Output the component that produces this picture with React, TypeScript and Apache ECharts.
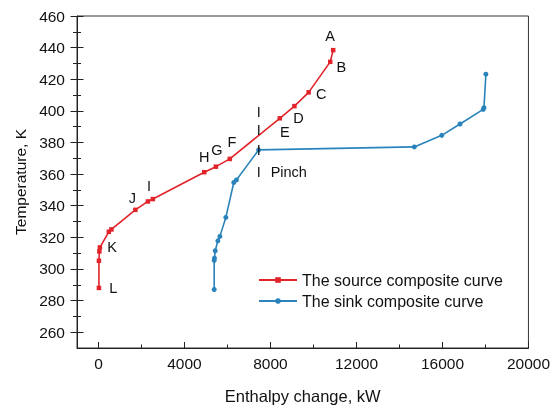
import React, { useEffect, useRef } from "react";
import * as echarts from "echarts";

// Source (hot) composite curve: enthalpy (kW), temperature (K), point letter
const sourceH = [20, 20, 40, 65, 480, 600, 1715, 2298, 2529, 4920, 5461, 6108, 8434, 9114, 9775, 10779, 10917];
const sourceT = [288, 305.2, 311.1, 313.6, 323.5, 325, 337.4, 342.7, 344.2, 361.2, 364.7, 369.6, 395.3, 403, 411.7, 431, 438.4];
const sourceLabels = ["L", "", "", "K", "", "", "J", "I", "", "H", "G", "F", "E", "D", "C", "B", "A"];

// Sink (cold) composite curve
const sinkH = [5382, 5382, 5395, 5429, 5553, 5646, 5923, 6293, 6414, 7450, 14691, 15967, 16817, 17895, 17930, 18020];
const sinkT = [287, 305.4, 306.9, 311.5, 317.8, 320.6, 332.6, 354.7, 356.3, 375.3, 377.2, 384.5, 391.7, 400.9, 402, 423.2];

// Pinch marks
const pinchH = 7450;
const pinchMarkT = [399, 387.8, 375.3, 361.2];
const pinchText = "Pinch";

// Axis ticks
const xMajor = [0, 4000, 8000, 12000, 16000, 20000];
const xMinor = [2000, 6000, 10000, 14000, 18000];
const yMajor = [260, 280, 300, 320, 340, 360, 380, 400, 420, 440, 460];
const yMinor = [270, 290, 310, 330, 350, 370, 390, 410, 430, 450];

const seriesNames = ["The source composite curve", "The sink composite curve"];

// label placement (style only)
const labelPlace: Record<string, { position: string; offset: number[] }> = {
  A: { position: "top", offset: [-3, 1] },
  B: { position: "right", offset: [-1, 5] },
  C: { position: "right", offset: [0, 2] },
  D: { position: "bottom", offset: [4, -3] },
  E: { position: "bottom", offset: [5, -1] },
  F: { position: "top", offset: [2, -2] },
  G: { position: "top", offset: [1, -2] },
  H: { position: "top", offset: [0, 0] },
  I: { position: "top", offset: [1, -1] },
  J: { position: "top", offset: [-3, 3] },
  K: { position: "right", offset: [0, 0] },
  L: { position: "right", offset: [3, 0] },
};

const RED = "#e2232a";
const BLUE = "#2a84bb";
const INK = "#111111";
const FONT = "'Liberation Sans', Arial, sans-serif";

export default function App() {
  const ref = useRef<HTMLDivElement>(null);
  useEffect(() => {
    if (!ref.current) return;
    const chart = echarts.init(ref.current, null, { renderer: "svg" });

    const sourceData = sourceH.map((h, i) => {
      const lab = sourceLabels[i];
      const item: any = { value: [h, sourceT[i]], name: lab };
      if (lab) {
        const p = labelPlace[lab];
        item.label = {
          show: true,
          formatter: lab,
          position: p.position,
          offset: p.offset,
          color: INK,
          fontSize: 14.5,
          fontFamily: FONT,
        };
      }
      return item;
    });
    const sinkData = sinkH.map((h, i) => [h, sinkT[i]]);
    const pinchData: any[] = pinchMarkT.map((t) => ({
      value: [pinchH, t],
      label: { show: true, formatter: "I", position: "inside", color: INK, fontSize: 14.5, fontFamily: FONT, textBorderWidth: 0, opacity: 1 },
    }));
    pinchData.push({
      value: [pinchH, pinchMarkT[pinchMarkT.length - 1]],
      label: { show: true, formatter: pinchText, position: "right", offset: [7, 0], color: INK, fontSize: 14.5, fontFamily: FONT, textBorderWidth: 0, opacity: 1 },
    });

    const yBase = { type: "value", min: 250, max: 460, position: "left", splitLine: { show: false } };

    const option: any = {
      animation: false,
      textStyle: { fontFamily: FONT },
      grid: { left: 77, right: 22, top: 16, bottom: 60, show: true, borderColor: "#333", borderWidth: 1 },
      legend: {
        data: seriesNames,
        orient: "vertical",
        left: 253,
        top: 267,
        itemWidth: 38,
        itemHeight: 7,
        itemGap: 5,
        textStyle: { fontSize: 16, color: INK, fontFamily: FONT },
      },
      xAxis: [
        {
          type: "value",
          min: -1000,
          max: 20000,
          position: "bottom",
          axisLine: { show: true, onZero: false, lineStyle: { color: "#222", width: 1 } },
          axisTick: { show: true, inside: true, length: 6, customValues: xMajor, lineStyle: { color: "#222" } },
          axisLabel: { customValues: xMajor, margin: 7, fontSize: 15.5, color: INK, fontFamily: FONT, formatter: (v: number) => String(v) },
          splitLine: { show: false },
          name: "Enthalpy change, kW",
          nameLocation: "middle",
          nameGap: 39,
          nameTextStyle: { fontSize: 16.5, color: INK, fontFamily: FONT },
        },
        {
          type: "value",
          min: -1000,
          max: 20000,
          position: "bottom",
          axisLine: { show: false, onZero: false },
          axisTick: { show: true, inside: true, length: 3.5, customValues: xMinor, lineStyle: { color: "#222" } },
          axisLabel: { show: false },
          splitLine: { show: false },
        },
      ],
      yAxis: [
        {
          ...yBase,
          axisLine: { show: true, onZero: false, lineStyle: { color: "#222", width: 1 } },
          axisTick: { show: false },
          axisLabel: { customValues: yMajor, margin: 12, fontSize: 15.5, color: INK, fontFamily: FONT, formatter: (v: number) => String(v) },
          name: "Temperature, K",
          nameLocation: "middle",
          nameGap: 49,
          nameTextStyle: { fontSize: 15.5, color: INK, fontFamily: FONT },
        },
        {
          ...yBase,
          offset: -6.5,
          axisLine: { show: false, onZero: false },
          axisTick: { show: true, inside: false, length: 13, customValues: yMajor, lineStyle: { color: "#222" } },
          axisLabel: { show: false },
        },
        {
          ...yBase,
          offset: -4,
          axisLine: { show: false, onZero: false },
          axisTick: { show: true, inside: false, length: 8, customValues: yMinor, lineStyle: { color: "#222" } },
          axisLabel: { show: false },
        },
      ],
      series: [
        {
          name: seriesNames[0],
          type: "line",
          xAxisIndex: 0,
          yAxisIndex: 0,
          data: sourceData,
          symbol: "rect",
          symbolSize: 4.5,
          lineStyle: { color: RED, width: 1.6 },
          itemStyle: { color: RED },
          z: 3,
        },
        {
          name: seriesNames[1],
          type: "line",
          xAxisIndex: 0,
          yAxisIndex: 0,
          data: sinkData,
          symbol: "circle",
          symbolSize: 5,
          lineStyle: { color: BLUE, width: 1.6 },
          itemStyle: { color: BLUE },
          z: 3,
        },
        {
          name: "pinch",
          type: "scatter",
          xAxisIndex: 0,
          yAxisIndex: 0,
          data: pinchData,
          symbol: "circle",
          symbolSize: 0,
          itemStyle: { color: INK, opacity: 1 },
          z: 4,
        },
      ],
    };
    chart.setOption(option);
    return () => chart.dispose();
  }, []);
  return <div ref={ref} style={{ width: 553, height: 409, position: "fixed", left: 0, top: 0 }} />;
}
